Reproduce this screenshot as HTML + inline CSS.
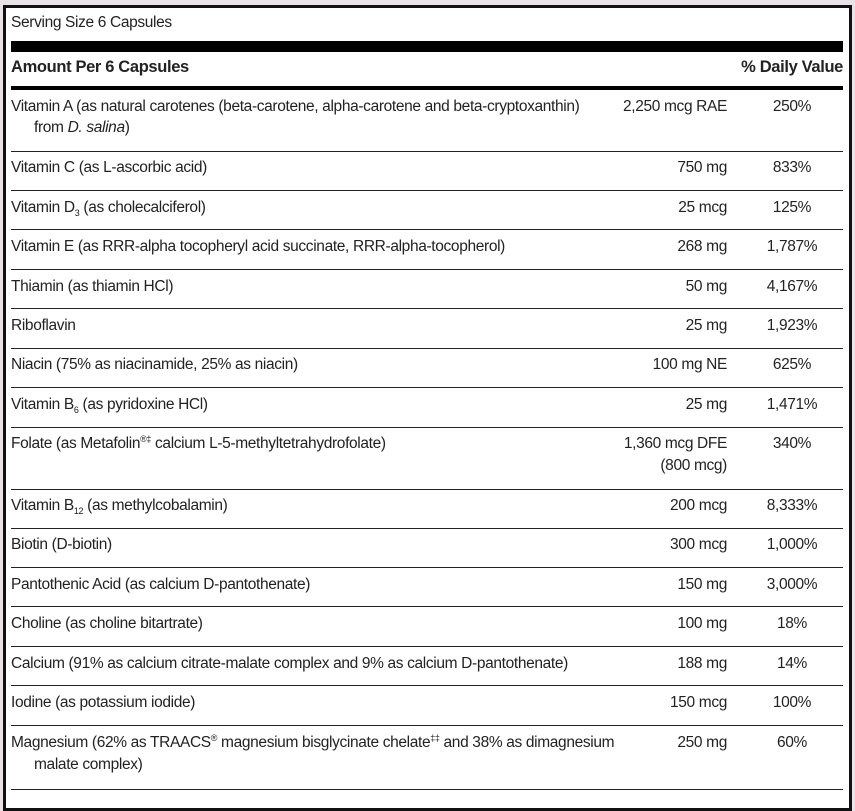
<!DOCTYPE html>
<html><head><style>
body{margin:0;width:855px;height:793px;background:#e9e3e7;overflow:hidden;font-family:"Liberation Sans",sans-serif;font-size:15.5px;color:#222;letter-spacing:-0.35px}
#box{position:absolute;left:3px;top:5px;width:843px;height:800px;border:3px solid #111;background:#fff}
.t{position:absolute;white-space:nowrap}
.bar{position:absolute;left:11px;width:832px;background:#000}
.ln{position:absolute;left:11px;width:832px;height:1px;background:#222}
.a{position:absolute;right:128px;text-align:right;white-space:nowrap}
.d{position:absolute;left:752px;width:80px;text-align:center}
sub,sup{font-size:9px;line-height:0}
</style></head><body>
<div id="box"></div>
<div class="t" style="left:11px;top:14px">Serving Size 6 Capsules</div>
<div class="bar" style="top:41px;height:11px"></div>
<div class="t" style="left:11px;top:58px;font-weight:bold;font-size:16.5px">Amount Per 6 Capsules</div>
<div class="t" style="right:12px;top:58px;font-weight:bold;font-size:16.5px">% Daily Value</div>
<div class="bar" style="top:86px;height:4px"></div>

<div class="t" style="left:11px;top:98px">Vitamin A (as natural carotenes (beta-carotene, alpha-carotene and beta-cryptoxanthin)</div>
<div class="t" style="left:34px;top:119px">from <i>D. salina</i>)</div>
<div class="a" style="top:98px">2,250 mcg RAE</div><div class="d" style="top:98px">250%</div>
<div class="ln" style="top:151px"></div>

<div class="t" style="left:11px;top:159px">Vitamin C (as L-ascorbic acid)</div><div class="a" style="top:159px">750 mg</div><div class="d" style="top:159px">833%</div>
<div class="ln" style="top:190px"></div>
<div class="t" style="left:11px;top:199px">Vitamin D<sub>3</sub> (as cholecalciferol)</div><div class="a" style="top:199px">25 mcg</div><div class="d" style="top:199px">125%</div>
<div class="ln" style="top:229px"></div>
<div class="t" style="left:11px;top:238px">Vitamin E (as RRR-alpha tocopheryl acid succinate, RRR-alpha-tocopherol)</div><div class="a" style="top:238px">268 mg</div><div class="d" style="top:238px">1,787%</div>
<div class="ln" style="top:269px"></div>
<div class="t" style="left:11px;top:278px">Thiamin (as thiamin HCl)</div><div class="a" style="top:278px">50 mg</div><div class="d" style="top:278px">4,167%</div>
<div class="ln" style="top:308px"></div>
<div class="t" style="left:11px;top:317px">Riboflavin</div><div class="a" style="top:317px">25 mg</div><div class="d" style="top:317px">1,923%</div>
<div class="ln" style="top:348px"></div>
<div class="t" style="left:11px;top:356px">Niacin (75% as niacinamide, 25% as niacin)</div><div class="a" style="top:356px">100 mg NE</div><div class="d" style="top:356px">625%</div>
<div class="ln" style="top:387px"></div>
<div class="t" style="left:11px;top:396px">Vitamin B<sub>6</sub> (as pyridoxine HCl)</div><div class="a" style="top:396px">25 mg</div><div class="d" style="top:396px">1,471%</div>
<div class="ln" style="top:427px"></div>
<div class="t" style="left:11px;top:435px">Folate (as Metafolin<sup>®‡</sup> calcium L-5-methyltetrahydrofolate)</div><div class="a" style="top:435px">1,360 mcg DFE</div><div class="d" style="top:435px">340%</div>
<div class="a" style="top:457px">(800 mcg)</div>
<div class="ln" style="top:489px"></div>
<div class="t" style="left:11px;top:497px">Vitamin B<sub>12</sub> (as methylcobalamin)</div><div class="a" style="top:497px">200 mcg</div><div class="d" style="top:497px">8,333%</div>
<div class="ln" style="top:528px"></div>
<div class="t" style="left:11px;top:536px">Biotin (D-biotin)</div><div class="a" style="top:536px">300 mcg</div><div class="d" style="top:536px">1,000%</div>
<div class="ln" style="top:567px"></div>
<div class="t" style="left:11px;top:576px">Pantothenic Acid (as calcium D-pantothenate)</div><div class="a" style="top:576px">150 mg</div><div class="d" style="top:576px">3,000%</div>
<div class="ln" style="top:606px"></div>
<div class="t" style="left:11px;top:615px">Choline (as choline bitartrate)</div><div class="a" style="top:615px">100 mg</div><div class="d" style="top:615px">18%</div>
<div class="ln" style="top:646px"></div>
<div class="t" style="left:11px;top:655px">Calcium (91% as calcium citrate-malate complex and 9% as calcium D-pantothenate)</div><div class="a" style="top:655px">188 mg</div><div class="d" style="top:655px">14%</div>
<div class="ln" style="top:685px"></div>
<div class="t" style="left:11px;top:694px">Iodine (as potassium iodide)</div><div class="a" style="top:694px">150 mcg</div><div class="d" style="top:694px">100%</div>
<div class="ln" style="top:725px"></div>
<div class="t" style="left:11px;top:734px">Magnesium (62% as TRAACS<sup>®</sup> magnesium bisglycinate chelate<sup>‡‡</sup> and 38% as dimagnesium</div>
<div class="t" style="left:34px;top:756px">malate complex)</div>
<div class="a" style="top:734px">250 mg</div><div class="d" style="top:734px">60%</div>
<div class="ln" style="top:789px"></div>
</body></html>
